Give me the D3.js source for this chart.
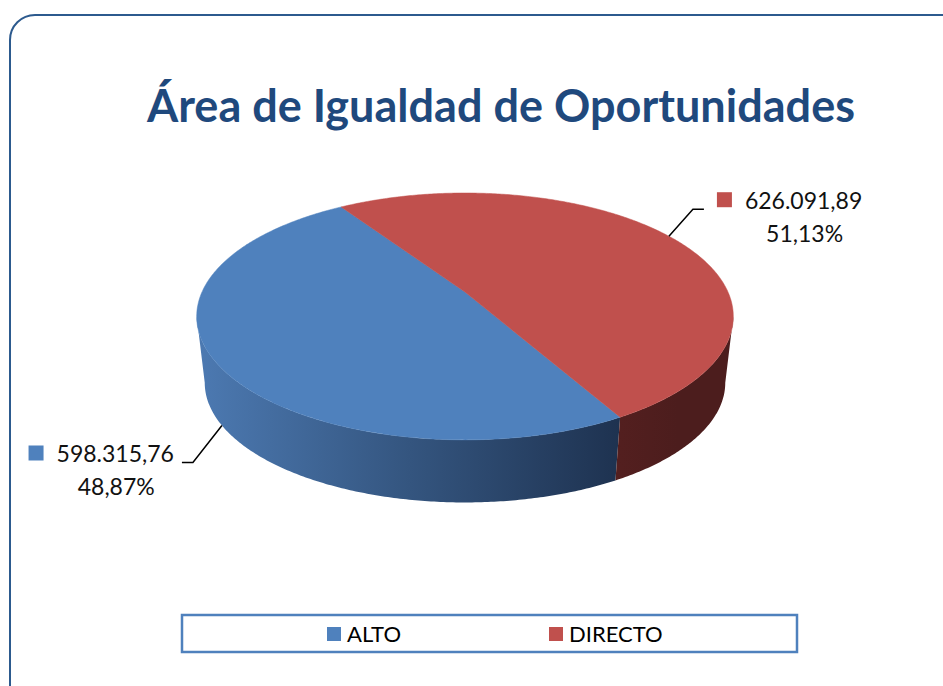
<!DOCTYPE html>
<html>
<head>
<meta charset="utf-8">
<script src="https://cdn.jsdelivr.net/npm/d3@7"></script>
<style>
  body { margin: 0; background: #fff; }
  svg { display: block; }
</style>
</head>
<body>
<svg id="chart" width="943" height="686"></svg>
<script>
// Datos del gráfico
const title = "Área de Igualdad de Oportunidades";
const categories = ["ALTO", "DIRECTO"];
const values = [598315.76, 626091.89];
const colors = ["#4f81bd", "#c0504d"];
const wallColors = [["#4c79b1", "#34557f", "#1e3250"], ["#531f1f", "#4c1d1d", "#4c1d1d"]];

const es = d3.formatLocale({decimal: ",", thousands: ".", grouping: [3], currency: ["", "€"]});
const fmtValue = es.format(",.2f");
const fmtPct = es.format(".2f");
const total = d3.sum(values);

const svg = d3.select("#chart");
const defs = svg.append("defs");

// Marco redondeado (se sale por la derecha y por abajo)
svg.append("rect")
    .attr("x", 10).attr("y", 15)
    .attr("width", 1000).attr("height", 1000)
    .attr("rx", 25).attr("ry", 25)
    .attr("fill", "#fff")
    .attr("stroke", "#2c5a8e")
    .attr("stroke-width", 2);

// Título
svg.append("text")
    .attr("x", 501).attr("y", 122)
    .attr("text-anchor", "middle")
    .attr("font-family", "Lato, 'Open Sans', sans-serif")
    .attr("font-weight", "bold")
    .attr("font-size", 46)
    .attr("textLength", 708)
    .attr("lengthAdjust", "spacingAndGlyphs")
    .attr("fill", "#1f497d")
    .text(title);

// Proyección en perspectiva del disco 3D
const cx = 465, cy = 292, A = 263, B = 118.6, k = 0.198;
const depth = 67, bottomScale = 0.97;
function proj(t, bottom) {
    const sc = bottom ? bottomScale : 1;
    const s = 1 / (1 + k * Math.cos(t));
    return [cx + A * sc * Math.sin(t) * s, cy + (bottom ? depth : 0) - B * sc * Math.cos(t) * s];
}
function arcPoints(a0, a1, bottom) {
    const n = Math.max(2, Math.ceil(Math.abs(a1 - a0) / 0.01));
    return d3.range(n + 1).map(i => proj(a0 + (a1 - a0) * i / n, bottom));
}
const line = d3.line();

const rad = Math.PI / 180;
const pie = d3.pie().sort(null).value(d => d)
    .startAngle(150.8 * rad).endAngle(150.8 * rad + 2 * Math.PI);
const arcs = pie(values);

// Parte visible de la pared lateral
const tR = Math.acos(-k), tL = 2 * Math.PI - Math.acos(-k);

arcs.forEach((a, i) => {
    const g = defs.append("linearGradient")
        .attr("id", "wall" + i)
        .attr("gradientUnits", "userSpaceOnUse")
        .attr("x1", 200).attr("x2", 620).attr("y1", 0).attr("y2", 0);
    if (i === 1) g.attr("x1", 620).attr("x2", 735);
    wallColors[i].forEach((c, j) => g.append("stop").attr("offset", j / 2).attr("stop-color", c));

    [0, 2 * Math.PI].forEach(off => {
        const w0 = Math.max(a.startAngle, tR + off), w1 = Math.min(a.endAngle, tL + off);
        if (w1 <= w0) return;
        const pts = arcPoints(w0, w1, false).concat(arcPoints(w1, w0, true));
        svg.append("path")
            .attr("d", line(pts) + "Z")
            .attr("fill", "url(#wall" + i + ")");
    });
});

// Caras superiores
arcs.forEach((a, i) => {
    const pts = [[cx, cy]].concat(arcPoints(a.startAngle, a.endAngle, false));
    svg.append("path")
        .attr("d", line(pts) + "Z")
        .attr("fill", colors[i])
        .attr("stroke", colors[i])
        .attr("stroke-width", 0.5);
});

// Etiquetas de datos con líneas guía
const labelFont = "Lato, 'Open Sans', sans-serif";
const labelSide = [-1, 1];
arcs.forEach((a, i) => {
    const mid = (a.startAngle + a.endAngle) / 2;
    const front = Math.cos(mid) < 0;
    const p = proj(mid, front);
    const dir = labelSide[i];
    const elbow = [p[0] + dir * (dir < 0 ? 29 : 24), p[1] + (front ? 37 : -27)];
    const end = [elbow[0] + dir * 11, elbow[1]];
    svg.append("path")
        .attr("d", line([p, elbow, end]))
        .attr("fill", "none")
        .attr("stroke", "#000")
        .attr("stroke-width", 1.5);

    const txt = svg.append("text")
        .attr("font-family", labelFont)
        .attr("font-size", 23)
        .attr("fill", "#111")
        .attr("text-anchor", "middle");
    const vText = fmtValue(values[i]);
    const pText = fmtPct(values[i] / total * 100) + "%";
    const t1 = txt.append("tspan").attr("x", 0).attr("y", end[1]).text(vText);
    const w = t1.node().getComputedTextLength();
    const x0 = dir < 0 ? end[0] - 8 - w / 2 : end[0] + 41 + w / 2;
    t1.attr("x", x0);
    txt.append("tspan").attr("x", x0 + 1).attr("y", end[1] + 33).text(pText);
    svg.append("rect")
        .attr("x", x0 - w / 2 - 28).attr("y", end[1] - 17)
        .attr("width", 15).attr("height", 15)
        .attr("fill", colors[i]);
});

// Leyenda
svg.append("rect")
    .attr("x", 182).attr("y", 615)
    .attr("width", 615).attr("height", 37)
    .attr("fill", "#fff")
    .attr("stroke", "#4f81bd")
    .attr("stroke-width", 2.5);
const legendX = d3.scalePoint().domain(categories).range([327, 549]);
categories.forEach((c, i) => {
    svg.append("rect")
        .attr("x", legendX(c)).attr("y", 627)
        .attr("width", 14).attr("height", 14)
        .attr("fill", colors[i]);
    svg.append("text")
        .attr("x", legendX(c) + 20).attr("y", 642)
        .attr("font-family", labelFont)
        .attr("font-size", 22)
        .attr("fill", "#000")
        .text(c);
});
</script>
</body>
</html>
